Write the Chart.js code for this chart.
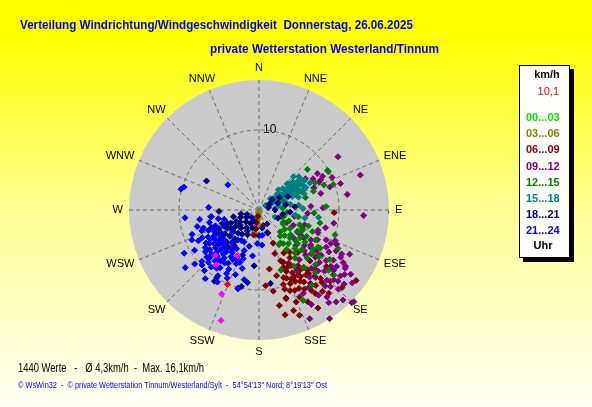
<!DOCTYPE html>
<html>
<head>
<meta charset="utf-8">
<script src="https://cdn.jsdelivr.net/npm/chart.js@4"></script>
<style>
  html, body { margin: 0; padding: 0; }
  body {
    width: 592px; height: 407px; overflow: hidden;
    background: linear-gradient(to bottom, #ffff00 0%, #ffff00 9%, #ffff90 50%, #fffff4 100%);
  }
  canvas { display: block; }
</style>
</head>
<body>
<canvas id="wind" width="592" height="407"></canvas>
<script>
// compass and legend texts
const compassLabels = ['N', 'NNE', 'NE', 'ENE', 'E', 'ESE', 'SE', 'SSE',
                       'S', 'SSW', 'SW', 'WSW', 'W', 'WNW', 'NW', 'NNW'];
const timeLabels = ['00...03', '03...06', '06...09', '09...12', '12...15', '15...18', '18...21', '21...24'];
const timeColors = ['#00ee00', '#808000', '#800000', '#800080', '#008000', '#008080', '#000080', '#0000ff'];
const ringValues = [10];
const speedMax = 16.25;
const lastSpeed = '10,1';

// [direction in degrees, speed in km/h]
const h00_03 = [[190,0.3],[186,0.7],[195,1.0]];
const h03_06 = [[186,0.5],[187,0.9],[188,1.3],[189,1.7],[190,2.1],[191,2.5],[192,2.9],[185,1.1],
  [193,2.3],[188,3.2],[194,1.6],[184,0.3]];
const h06_09 = [[190,0.8],[191,1.6],[189,2.4],[192,3.2],[159,3.1],[165,2.0],[157,4.5],[160,5.8],
  [157,6.9],[147,7.1],[157,7.8],[138,7.2],[152,8.9],[160,9.0],[142,9.1],[157,10.0],[170,10.3],
  [150,10.3],[142,10.1],[163,11.6],[145,11.2],[142,12.9],[135,12.6],[159,14.1],[149,14.3],
  [126,15.0],[92,9.4],[127,9.4],[163,11.5],[150,8.0],[145,8.5],[155,9.5],[148,9.8],[140,10.8],
  [153,11.0],[158,12.4],[147,12.0],[138,11.5],[165,8.5],[144,6.5],[150,6.2],[135,9.0],[130,11.0],
  [168,12.2],[152,13.0],[161,13.3],[140,13.6],[133,14.2],[170,7.5],[175,9.5],[155,7.2],[148,10.6],
  [143,11.8],[152,9.4],[146,9.1],[162,10.4],[137,10.2],[131,12.3],[155,12.0],[166,13.5],
  [151,7.6],[156,8.4],[149,9.5],[144,10.0],[159,10.8],[153,10.0],[147,8.8],[141,9.6],[158,9.2],
  [150,11.4],[146,12.6],[156,11.0],[162,9.8],[139,12.0],[154,8.0]];
const h09_12 = [[56,11.9],[71,13.4],[91,16.5],[93,13.1],[80,11.2],[72,10.7],[60,7.8],[72,9.3],
  [86,6.5],[62,9.0],[65,8.3],[58,8.6],[68,7.4],[56,7.0],[75,8.0],[64,8.6],[94,6.1],[109,7.8],
  [112,10.3],[114,10.6],[100,9.5],[88,8.0],[66,10.0],[114,4.7],[121,6.1],[124,7.8],[126,9.6],
  [128,11.4],[129,13.1],[123,12.9],[114,9.2],[134,9.9],[134,8.1],[134,6.4],[137,13.1],[118,10.9],
  [152,11.8],[143,14.5],[147,16.2],[131,14.1],[134,16.5],[118,11.7],[115,9.9],[111,7.9],[122,6.6],
  [127,10.5],[137,15.4],[135,16.4],[151,13.5],[120,11.8],[132,13.3],[125,14.0],[140,15.0],
  [130,8.5],[125,8.8],[133,11.2],[128,7.2],[138,9.8],[140,11.0],[122,9.0],[117,8.2],[126,12.0],
  [136,12.2],[143,10.5],[145,13.0],[120,7.5],[131,10.0],[128,14.8],[116,12.6],[141,8.0],
  [147,11.5],[105,8.6],[119,5.5],[108,6.0],[148,9.0],[155,15.0],[129,5.5],[105,3.0],[115,3.8],
  [100,4.5],[121,10.2],[124,11.2],[129,12.0],[133,12.8],[127,13.4],[135,14.0],[122,12.4],
  [130,9.2],[136,10.6],[119,9.6],[126,8.0],[132,7.6],[139,12.6],[142,13.8],[124,13.0]];
const h12_15 = [[50,7.9],[61,9.9],[69,8.7],[93,6.9],[87,8.4],[154,12.6],[108,10.0],[131,12.4],
  [60,9.9],[71,7.2],[64,7.8],[71,9.8],[147,4.9],[131,6.4],[129,8.6],[122,8.7],[131,11.5],
  [108,6.5],[117,3.4],[136,3.8],[139,5.6],[143,7.5],[113,5.9],[55,6.0],[65,5.5],[75,6.0],
  [100,5.0],[110,4.0],[115,6.0],[120,5.5],[125,7.0],[130,6.0],[118,8.0],[135,8.5],[140,7.0],
  [128,9.5],[145,6.0],[112,7.2],[105,3.2],[120,3.5],[135,4.5],[138,10.5],[125,10.8],[150,5.0],
  [95,3.5],[85,3.0],[70,3.2],[122,9.0],[132,5.2],[142,9.2],[116,11.0],[102,7.8],[160,8.0],
  [145,11.5],[148,8.3],[127,4.0],[141,4.2],[119,6.8],[124,6.2],[133,7.3],[137,6.6],[128,5.0],
  [110,5.4],[121,4.5],[126,8.3],[134,9.8],[144,5.2]];
const h15_18 = [[46,6.0],[64,6.5],[54,3.3],[65,1.5],[97,7.5],[72,5.2],[50,5.5],[52,4.5],[55,5.0],
  [58,6.0],[60,4.0],[62,5.5],[48,4.0],[56,2.5],[60,2.0],[66,3.0],[68,4.5],[70,6.0],[57,6.8],
  [50,6.5],[62,7.2],[75,3.5],[45,2.0],[52,3.0],[58,3.6],[63,4.8],[67,5.8],[54,5.8],[49,5.0],
  [80,4.0],[78,2.5],[85,2.0],[70,1.2],[55,1.0],[53,6.2],[61,3.2],[44,3.5],[88,5.5],[100,5.8],
  [83,5.0],[98,4.6],[114,2.2],[51,2.3],[57,4.3],[59,5.2],[65,6.1],[47,4.8],[53,4.0],[56,5.5],
  [61,6.3],[49,3.0],[59,2.8],[64,3.8],[52,5.2],[55,6.5],[68,5.0],[60,4.6]];
const h18_21 = [[205,1.5],[225,1.3],[240,1.8],[250,1.6],[200,2.4],[215,2.7],[228,2.2],[238,2.8],
  [248,2.5],[258,2.3],[205,3.4],[215,3.7],[225,3.2],[235,3.6],[245,3.9],[255,3.3],[210,4.4],
  [220,4.7],[230,4.2],[240,4.6],[250,4.9],[215,5.4],[225,5.7],[235,5.2],[245,5.5],[205,6.3],
  [230,6.6],[220,6.0],[240,5.9],[299,7.5],[189,9.2],[212,10.5],[193,9.8],[200,6.0],[180,3.2],
  [171,9.3],[185,7.0],[195,10.2],[212,10.0],[262,6.0],[250,6.3],[268,5.0],[52,2.1],[60,1.5],
  [70,2.5],[79,3.4],[94,3.9],[113,2.6],[65,4.0],[85,4.5],[100,3.0],[170,2.3],[160,3.0],
  [150,2.0],[75,1.2],[90,2.0],[58,3.0],[222,3.9],[232,3.0],[210,3.0],[243,3.2],[228,4.9],
  [218,5.1],[237,4.2],[213,2.0],[247,4.3],[233,5.8]];
const h21_24 = [[205,4.4],[215,4.6],[230,4.3],[245,4.8],[255,4.5],[195,4.7],[200,5.4],[210,5.6],
  [220,5.3],[228,5.7],[238,5.5],[250,5.8],[258,5.2],[198,6.4],[205,6.7],[212,6.3],[218,6.6],
  [224,6.9],[232,6.2],[240,6.5],[248,6.8],[256,6.4],[196,7.6],[203,7.3],[210,7.7],[216,7.4],
  [222,7.8],[229,7.2],[236,7.5],[244,7.9],[252,7.3],[200,8.6],[207,8.3],[214,8.7],[221,8.4],
  [228,8.8],[235,8.2],[243,8.5],[250,8.9],[205,9.4],[212,9.7],[220,9.3],[228,9.6],[238,9.5],
  [246,9.2],[210,10.4],[222,10.2],[232,11.7],[230,10.5],[195,10.1],[285,10.1],[287,9.8],
  [309,5.0],[273,6.3],[264,9.3],[261,7.5],[262,6.1],[183,4.2],[188,5.8],[192,8.9],[255,8.0],
  [240,10.8],[218,10.9],[214,6.0],[226,6.1],[219,7.1],[231,7.9],[225,7.5],[233,7.0],[217,8.0],
  [227,8.1],[223,6.5],[236,6.6],[208,7.0],[242,7.2],[247,6.0],[238,7.8],[173,3.2],[175,4.4],
  [213,7.9],[220,8.1],[226,8.6],[232,8.5],[216,9.0],[224,9.1],[211,6.8],[229,6.4],[234,5.9],
  [244,6.2],[239,7.1],[250,7.6],[207,8.9],[200,7.0],[226,9.9]];
const extraPoints = [[204,11.5],[199,14.6],[224,7.9],[218,8.7],[205,6.3]];
const lastPoint = [[203,10.1]];

function toXY(list) {
  return list.map(p => {
    const a = p[0] * Math.PI / 180;
    return { x: p[1] * Math.sin(a), y: p[1] * Math.cos(a) };
  });
}

const groups = [h00_03, h03_06, h06_09, h09_12, h12_15, h15_18, h18_21, h21_24];
const datasets = groups.map((g, i) => ({
  label: timeLabels[i],
  data: toXY(g),
  backgroundColor: timeColors[i],
  borderColor: timeColors[i],
  order: 20 - i
}));
datasets.push({ label: 'extra', data: toXY(extraPoints), backgroundColor: '#ff00ff', borderColor: '#ff00ff', order: 2 });
datasets.push({ label: 'last', data: toXY(lastPoint), backgroundColor: '#ff0000', borderColor: '#ff0000', order: 1 });

function fitText(ctx, text, x, y, width) {
  const w = ctx.measureText(text).width;
  ctx.save();
  ctx.translate(x, y);
  ctx.scale(width / w, 1);
  ctx.fillText(text, 0, 0);
  ctx.restore();
}

const windRose = {
  id: 'windRose',
  beforeDatasetsDraw(chart) {
    const ctx = chart.ctx;
    const sx = chart.scales.x, sy = chart.scales.y;
    const cx = sx.getPixelForValue(0), cy = sy.getPixelForValue(0);
    const R = sx.getPixelForValue(speedMax) - cx;
    ctx.save();
    ctx.fillStyle = '#cacaca';
    ctx.beginPath();
    ctx.arc(cx, cy, R, 0, Math.PI * 2);
    ctx.fill();

    ctx.strokeStyle = '#6e6e6e';
    ctx.lineWidth = 1;
    ctx.setLineDash([4, 3]);
    for (let i = 0; i < 16; i++) {
      const a = i * 22.5 * Math.PI / 180;
      ctx.beginPath();
      ctx.moveTo(cx, cy);
      ctx.lineTo(cx + R * Math.sin(a), cy - R * Math.cos(a));
      ctx.stroke();
    }
    ringValues.forEach(v => {
      const r = sx.getPixelForValue(v) - cx;
      ctx.beginPath();
      ctx.arc(cx, cy, r, 0, Math.PI * 2);
      ctx.stroke();
    });
    ctx.setLineDash([]);
    ctx.restore();
  },
  afterDraw(chart) {
    const ctx = chart.ctx;
    const sx = chart.scales.x, sy = chart.scales.y;
    const cx = sx.getPixelForValue(0), cy = sy.getPixelForValue(0);
    ctx.save();
    ctx.textBaseline = 'middle';

    // compass labels
    ctx.font = '11px "Liberation Sans", Arial, sans-serif';
    ctx.fillStyle = '#000';
    ctx.textAlign = 'center';
    compassLabels.forEach((lab, i) => {
      const a = i * 22.5 * Math.PI / 180;
      const s = Math.sin(a), c = Math.cos(a);
      const hw = ctx.measureText(lab).width / 2;
      const x = cx + 136 * s + hw * s;
      const y = cy - 136 * c - 6 * c;
      ctx.fillText(lab, x, y);
    });
    ctx.font = '12px "Liberation Sans", Arial, sans-serif';
    ringValues.forEach(v => {
      ctx.textAlign = 'left';
      ctx.fillText(String(v), cx + 4, sy.getPixelForValue(v));
    });

    // titles
    ctx.textAlign = 'left';
    ctx.fillStyle = '#0000f0';
    ctx.font = 'bold 13px "Liberation Sans", Arial, sans-serif';
    fitText(ctx, 'Verteilung Windrichtung/Windgeschwindigkeit  Donnerstag, 26.06.2025', 20, 25, 393);
    fitText(ctx, 'private Wetterstation Westerland/Tinnum', 210, 49, 229);

    // legend box
    ctx.fillStyle = '#000';
    ctx.fillRect(523, 69, 51, 193);
    ctx.fillStyle = '#fffffc';
    ctx.fillRect(519, 65, 51, 193);
    ctx.strokeStyle = '#000';
    ctx.lineWidth = 1;
    ctx.strokeRect(519.5, 65.5, 50, 192);

    ctx.font = 'bold 11px "Liberation Sans", Arial, sans-serif';
    ctx.fillStyle = '#000';
    ctx.textAlign = 'center';
    ctx.fillText('km/h', 547, 75);
    ctx.font = '11px "Liberation Sans", Arial, sans-serif';
    ctx.fillStyle = '#ff0000';
    ctx.textAlign = 'right';
    ctx.fillText(lastSpeed, 559, 92);
    ctx.font = 'bold 11px "Liberation Sans", Arial, sans-serif';
    ctx.textAlign = 'left';
    timeLabels.forEach((lab, i) => {
      ctx.fillStyle = timeColors[i];
      ctx.fillText(lab, 526, 118 + i * 16.2);
    });
    ctx.fillStyle = '#000';
    ctx.textAlign = 'center';
    ctx.fillText('Uhr', 543, 246);

    // footer
    ctx.textAlign = 'left';
    ctx.font = '12px "Liberation Sans", Arial, sans-serif';
    ctx.fillStyle = '#000';
    fitText(ctx, '1440 Werte   -   Ø 4,3km/h  -  Max. 16,1km/h', 18, 369, 186);
    ctx.font = '9px "Liberation Sans", Arial, sans-serif';
    ctx.fillStyle = '#0000ff';
    fitText(ctx, '© WsWin32  -  © private Wetterstation Tinnum/Westerland/Sylt  -  54°54\'13" Nord; 8°19\'13" Ost', 18, 386, 309);
    ctx.restore();
  }
};

new Chart(document.getElementById('wind').getContext('2d'), {
  type: 'scatter',
  data: { datasets: datasets },
  options: {
    responsive: false,
    animation: false,
    layout: { padding: { left: 129, right: 203, top: 80, bottom: 67 } },
    elements: { point: { pointStyle: 'rectRot', radius: 3, borderWidth: 1, hoverRadius: 3 } },
    scales: {
      x: { type: 'linear', min: -speedMax, max: speedMax, display: false },
      y: { type: 'linear', min: -speedMax, max: speedMax, display: false }
    },
    plugins: { legend: { display: false }, tooltip: { enabled: false } },
    events: []
  },
  plugins: [windRose]
});
</script>
</body>
</html>
